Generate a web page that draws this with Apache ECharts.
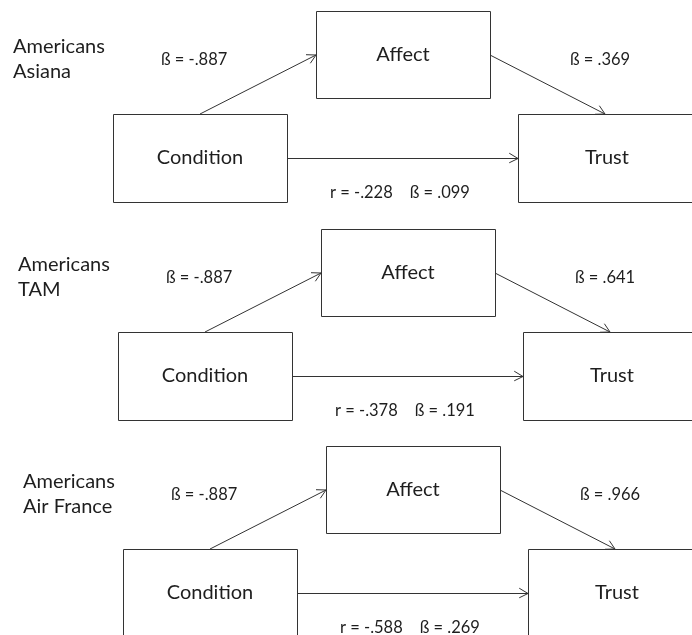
<!DOCTYPE html>
<html>
<head>
<meta charset="utf-8">
<script src="https://cdn.jsdelivr.net/npm/echarts@6/dist/echarts.min.js"></script>
<style>
  html, body { margin: 0; padding: 0; background: #fff; }
  #chart { width: 692px; height: 635px; }
</style>
</head>
<body>
<div id="chart"></div>
<script>
// data
const panelTitles = ['Americans\nAsiana', 'Americans\nTAM', 'Americans\nAir France'];
const nodeNames = ['Condition', 'Affect', 'Trust'];
const betaCondAffect = ['-.887', '-.887', '-.887'];
const betaAffectTrust = ['.369', '.641', '.966'];
const rCondTrust = ['-.228', '-.378', '-.588'];
const betaCondTrust = ['.099', '.191', '.269'];

// layout (pixel units of the hidden axes)
const origins = [[0, 0], [5, 218], [10, 435]];
const boxes = {
  Condition: [113, 114, 174, 88],
  Affect: [316, 11, 174, 87],
  Trust: [518, 114, 174, 88]
};
const FONT = 'Lato, "Open Sans", sans-serif';
const TXT = '#1e1e1e';
const LINE = '#333';

const boxData = [];
const edgeData = [];
const textData = [];

panelTitles.forEach((title, i) => {
  const [ox, oy] = origins[i];
  nodeNames.forEach(n => {
    const b = boxes[n];
    boxData.push([ox + b[0], oy + b[1], ox + b[0] + b[2], oy + b[1] + b[3], n]);
  });
  const c = boxes.Condition, a = boxes.Affect, t = boxes.Trust;
  // Condition top -> Affect left
  edgeData.push([ox + c[0] + c[2] / 2, oy + c[1], ox + a[0], oy + a[1] + a[3] / 2 + 0.5]);
  // Affect right -> Trust top
  edgeData.push([ox + a[0] + a[2], oy + a[1] + a[3] / 2 + 0.5, ox + t[0] + 87, oy + t[1]]);
  // Condition right -> Trust left
  edgeData.push([ox + c[0] + c[2], oy + c[1] + c[3] / 2, ox + t[0], oy + t[1] + t[3] / 2]);

  const lines = title.split('\n');
  textData.push([ox + 13, oy + 47, lines[0], 20, 'left']);
  textData.push([ox + 13, oy + 72, lines[1], 20, 'left']);
  textData.push([ox + 161, oy + 60, 'ß = ' + betaCondAffect[i], 16.5, 'left']);
  textData.push([ox + 570, oy + 60, 'ß = ' + betaAffectTrust[i], 16.5, 'left']);
  textData.push([ox + 330, oy + 193, 'r = ' + rCondTrust[i] + '    ß = ' + betaCondTrust[i], 16.5, 'left']);
});

const chart = echarts.init(document.getElementById('chart'));
chart.setOption({
  backgroundColor: '#fff',
  animation: false,
  grid: { left: 0, right: 0, top: 0, bottom: 0 },
  xAxis: { type: 'value', min: 0, max: 692, show: false },
  yAxis: { type: 'value', min: 0, max: 635, inverse: true, show: false },
  series: [
    {
      type: 'custom',
      coordinateSystem: 'cartesian2d',
      data: boxData,
      renderItem: (params, api) => {
        const p1 = api.coord([api.value(0), api.value(1)]);
        const p2 = api.coord([api.value(2), api.value(3)]);
        const name = boxData[params.dataIndex][4];
        const x1 = Math.round(p1[0]) + 0.5, y1 = Math.round(p1[1]) + 0.5;
        const x2 = Math.round(p2[0]) + 0.5, y2 = Math.round(p2[1]) + 0.5;
        // the Trust box runs off the right edge of the picture: draw it open there
        const outline = name === 'Trust'
          ? { type: 'polyline', shape: { points: [[x2 + 20, y1], [x1, y1], [x1, y2], [x2 + 20, y2]] },
              style: { stroke: LINE, lineWidth: 1, fill: null } }
          : { type: 'rect', shape: { x: x1, y: y1, width: x2 - x1, height: y2 - y1 },
              style: { fill: '#fff', stroke: LINE, lineWidth: 1 } };
        const cx = name === 'Trust' ? p1[0] + 89 : (p1[0] + p2[0]) / 2;
        return {
          type: 'group',
          children: [
            outline,
            {
              type: 'text',
              style: {
                text: name, x: cx, y: (p1[1] + p2[1]) / 2,
                font: '20px ' + FONT, fill: TXT,
                align: 'center', verticalAlign: 'middle',
                textAlign: 'center', textVerticalAlign: 'middle'
              }
            }
          ]
        };
      }
    },
    {
      type: 'custom',
      coordinateSystem: 'cartesian2d',
      data: edgeData,
      renderItem: (params, api) => {
        const p1 = api.coord([api.value(0), api.value(1)]);
        const p2 = api.coord([api.value(2), api.value(3)]);
        const ang = Math.atan2(p2[1] - p1[1], p2[0] - p1[0]);
        const len = 10, spread = 0.5;
        const h1 = [p2[0] - len * Math.cos(ang - spread), p2[1] - len * Math.sin(ang - spread)];
        const h2 = [p2[0] - len * Math.cos(ang + spread), p2[1] - len * Math.sin(ang + spread)];
        const horiz = Math.abs(p1[1] - p2[1]) < 0.01;
        const y0 = horiz ? Math.round(p1[1]) + 0.5 : 0;
        const a = horiz ? [p1[0], y0] : p1;
        const b = horiz ? [p2[0], y0] : p2;
        return {
          type: 'group',
          children: [
            { type: 'line', shape: { x1: a[0], y1: a[1], x2: b[0], y2: b[1] },
              style: { stroke: LINE, lineWidth: 1 } },
            { type: 'polyline', shape: { points: [h1, b, h2] },
              style: { stroke: LINE, lineWidth: 1, fill: null } }
          ]
        };
      }
    },
    {
      type: 'custom',
      coordinateSystem: 'cartesian2d',
      data: textData,
      renderItem: (params, api) => {
        const d = textData[params.dataIndex];
        const p = api.coord([d[0], d[1]]);
        return {
          type: 'text',
          style: {
            text: d[2], x: p[0], y: p[1],
            font: d[3] + 'px ' + FONT, fill: TXT,
            align: d[4], verticalAlign: 'middle',
            textAlign: d[4], textVerticalAlign: 'middle'
          }
        };
      }
    }
  ]
});
</script>
</body>
</html>
